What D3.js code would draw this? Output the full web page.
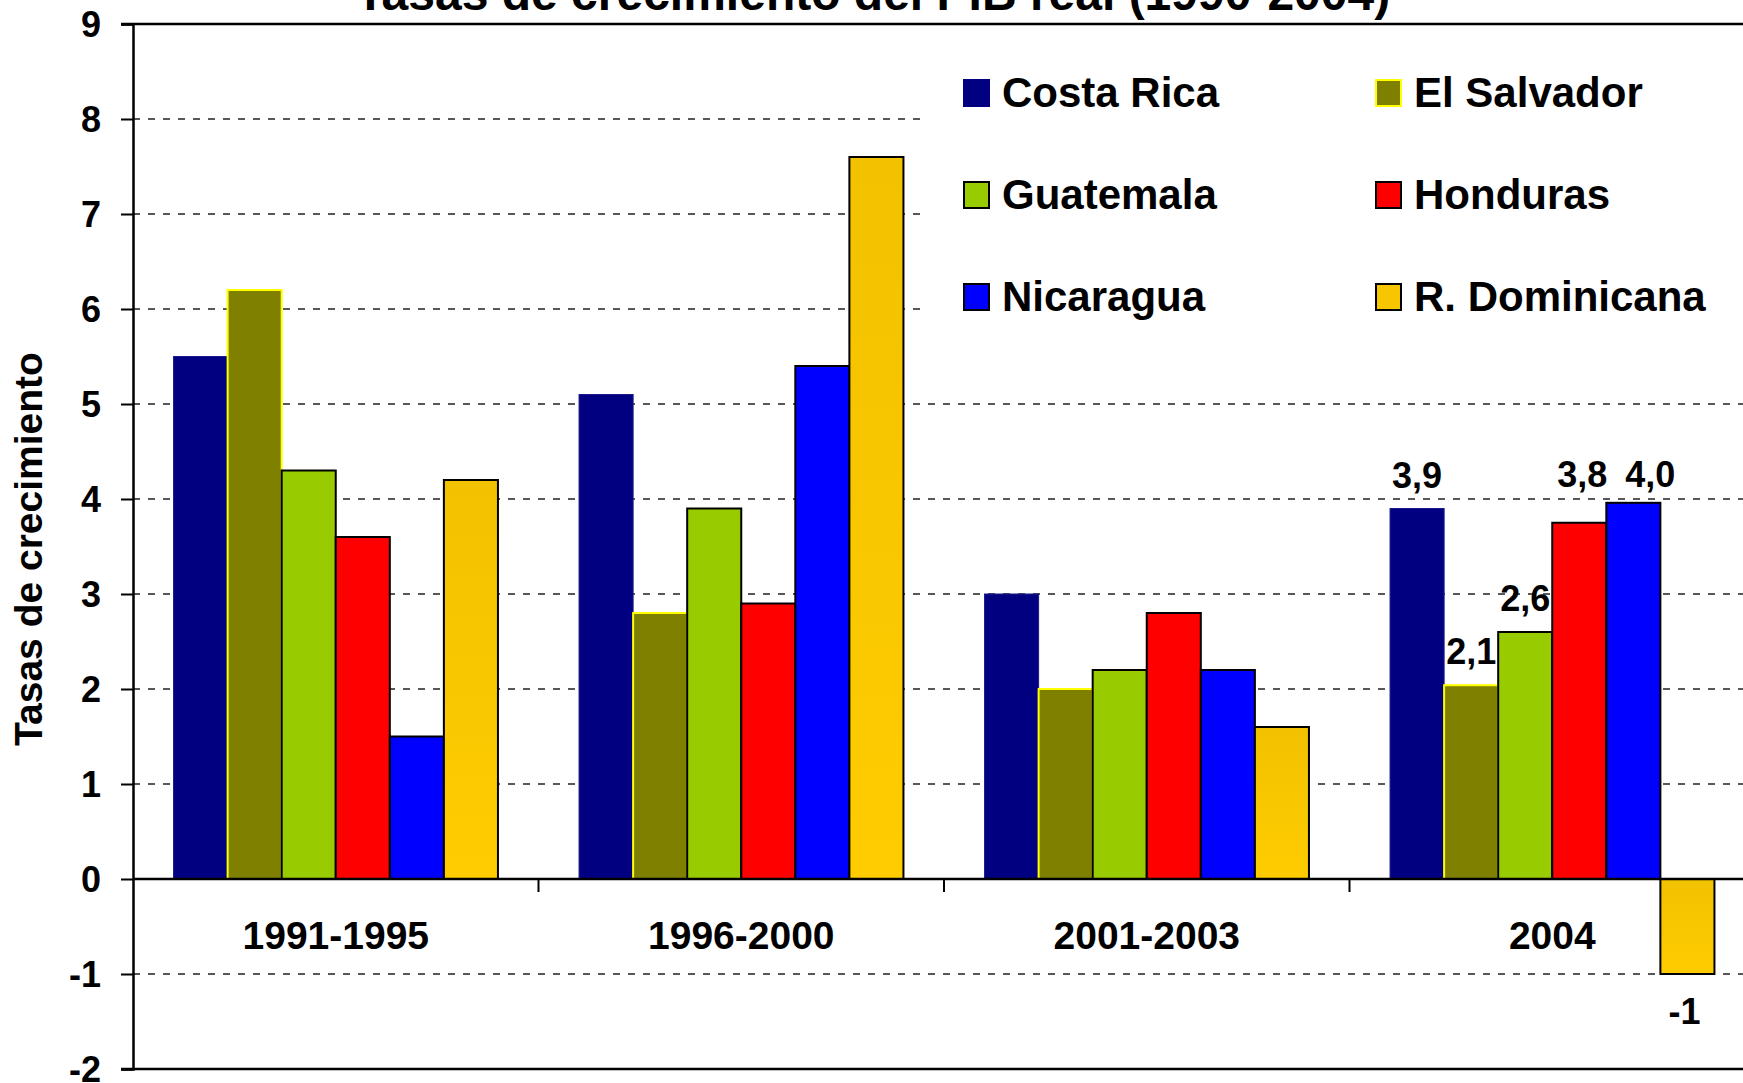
<!DOCTYPE html>
<html><head><meta charset="utf-8">
<script src="https://cdn.jsdelivr.net/npm/d3@7"></script>
<style>
body{margin:0;background:#fff;}
svg{display:block;}
text{font-family:"Liberation Sans",Arial,Helvetica,sans-serif;font-weight:bold;fill:#000;}
</style>
</head><body>
<svg id="c" width="1743" height="1083"></svg>
<script>
// ---- data ----
const categories = ["1991-1995", "1996-2000", "2001-2003", "2004"];
const countries = ["Costa Rica", "El Salvador", "Guatemala", "Honduras", "Nicaragua", "R. Dominicana"];
const costaRica   = [5.5, 5.1, 3.0, 3.9];
const elSalvador  = [6.2, 2.8, 2.0, 2.04];
const guatemala   = [4.3, 3.9, 2.2, 2.6];
const honduras    = [3.6, 2.9, 2.8, 3.75];
const nicaragua   = [1.5, 5.4, 2.2, 3.96];
const rDominicana = [4.2, 7.6, 1.6, -1.0];
const labels2004  = ["3,9", "2,1", "2,6", "3,8", "4,0", "-1"];
const yTicks = [-2, -1, 0, 1, 2, 3, 4, 5, 6, 7, 8, 9];
const titleText = "Tasas de crecimiento del PIB real (1990-2004)";
const yTitleText = "Tasas de crecimiento";

(function () {
// ---- styles ----
const fills = ["#000080", "#808000", "#99CC00", "#FF0000", "#0000FF", "url(#gold)"];
const swatchFills = ["#000080", "#808000", "#99CC00", "#FF0000", "#0000FF", "#F7C600"];
const strokes = ["#1a1a8a", "#FFFF00", "#000", "#000", "#000", "#000"];
const strokeW = [1, 2, 2, 2, 2, 2];
// manual nudges of the 2004 data labels (as placed in the original)
const labelNudge = [[0, 0], [0, 0], [0, 0], [3, -15], [17, 5], [-3, 0]];

const seriesValues = [costaRica, elSalvador, guatemala, honduras, nicaragua, rDominicana];

const svg = d3.select("#c");
const defs = svg.append("defs");
const gr = defs.append("linearGradient").attr("id", "gold")
  .attr("x1", 0).attr("y1", 0).attr("x2", 0).attr("y2", 1);
gr.append("stop").attr("offset", "0%").attr("stop-color", "#F2C200");
gr.append("stop").attr("offset", "100%").attr("stop-color", "#FFCC00");

const mLeft = 133, mTop = 24, mBottom = 1069;
const bandW = 405.5;
const x0 = d3.scaleBand().domain(categories).range([mLeft, mLeft + bandW * categories.length]).padding(0);
const gap = x0.bandwidth() / 7.5 * 1.5;
const x1 = d3.scaleBand().domain(countries).range([gap / 2, x0.bandwidth() - gap / 2]).padding(0);
const y = d3.scaleLinear().domain([-2, 9]).range([mBottom, mTop]);

// gridlines
svg.append("g").selectAll("line").data(yTicks.filter(t => t !== 0 && t !== 9 && t !== -2))
  .join("line")
  .attr("x1", mLeft).attr("x2", 1743)
  .attr("y1", d => y(d)).attr("y2", d => y(d))
  .attr("stroke", "#222").attr("stroke-width", 1.3).attr("stroke-dasharray", "7,8");

// legend background
svg.append("rect").attr("x", 921).attr("y", mTop + 3).attr("width", 1743 - 921).attr("height", 330)
  .attr("fill", "#fff");

// bars
const barData = [];
seriesValues.forEach((vals, si) => {
  vals.forEach((v, ci) => barData.push({ si, ci, v, cat: categories[ci], country: countries[si] }));
});
svg.append("g").selectAll("rect").data(barData).join("rect")
  .attr("x", d => x0(d.cat) + x1(d.country))
  .attr("width", x1.bandwidth())
  .attr("y", d => y(Math.max(0, d.v)))
  .attr("height", d => Math.abs(y(d.v) - y(0)))
  .attr("fill", d => fills[d.si])
  .attr("stroke", d => strokes[d.si])
  .attr("stroke-width", d => strokeW[d.si]);

// plot border (top & bottom)
svg.append("line").attr("x1", mLeft - 12).attr("x2", 1743).attr("y1", mTop).attr("y2", mTop)
  .attr("stroke", "#000").attr("stroke-width", 2.5);
svg.append("line").attr("x1", mLeft - 12).attr("x2", 1743).attr("y1", mBottom).attr("y2", mBottom)
  .attr("stroke", "#000").attr("stroke-width", 2.5);

// y axis
const yAxis = d3.axisLeft(y).tickValues(yTicks).tickSize(12).tickPadding(20).tickFormat(d3.format("d"));
const ya = svg.append("g").attr("transform", `translate(${mLeft},0)`).call(yAxis);
ya.attr("font-family", null).attr("font-size", null);
ya.select(".domain").attr("stroke", "#000").attr("stroke-width", 2.5);
ya.selectAll(".tick line").attr("stroke", "#000").attr("stroke-width", 2);
ya.selectAll(".tick text").attr("font-size", 36).attr("dy", "0.36em").attr("fill", "#000")
  .text(d => d < 0 ? "-" + Math.abs(d) : d);

// x axis at zero
const xAxis = d3.axisBottom(x0).tickSize(0).tickPadding(0);
const xa = svg.append("g").attr("transform", `translate(0,${y(0)})`).call(xAxis);
xa.attr("font-family", null).attr("font-size", null);
xa.select(".domain").attr("stroke", "#000").attr("stroke-width", 2.5).attr("d", `M${mLeft},0H1743`);
xa.selectAll(".tick text").attr("font-size", 39).attr("dy", null).attr("y", 70).attr("fill", "#000");
// category boundary ticks
svg.append("g").selectAll("line").data(categories.slice(1)).join("line")
  .attr("x1", d => x0(d)).attr("x2", d => x0(d))
  .attr("y1", y(0)).attr("y2", y(0) + 13)
  .attr("stroke", "#000").attr("stroke-width", 2);

// data labels for 2004
const last = categories[categories.length - 1];
svg.append("g").selectAll("text").data(countries).join("text")
  .attr("x", (c, i) => x0(last) + x1(c) + x1.bandwidth() / 2 + labelNudge[i][0])
  .attr("y", (c, i) => {
    const v = seriesValues[i][categories.length - 1];
    return (v >= 0 ? y(v) - 21 : y(v) + 50) + labelNudge[i][1];
  })
  .attr("text-anchor", "middle").attr("font-size", 36)
  .text((c, i) => labels2004[i]);

// title
svg.append("text").attr("x", 873).attr("y", 10).attr("text-anchor", "middle")
  .attr("font-size", 48).text(titleText);

// y title
svg.append("text").attr("transform", "translate(42,549) rotate(-90)")
  .attr("text-anchor", "middle").attr("font-size", 39).text(yTitleText);

// legend
const legX = [964, 1376], legY = [80, 182, 284];
const leg = svg.append("g").selectAll("g").data(countries).join("g")
  .attr("transform", (d, i) => `translate(${legX[i % 2]},${legY[Math.floor(i / 2)]})`);
leg.append("rect").attr("width", 25).attr("height", 26)
  .attr("fill", (d, i) => swatchFills[i])
  .attr("stroke", (d, i) => i === 0 ? "#000080" : strokes[i])
  .attr("stroke-width", 2);
leg.append("text").attr("x", 38).attr("y", 27).attr("font-size", 42).text(d => d);
})();
</script>
</body></html>
